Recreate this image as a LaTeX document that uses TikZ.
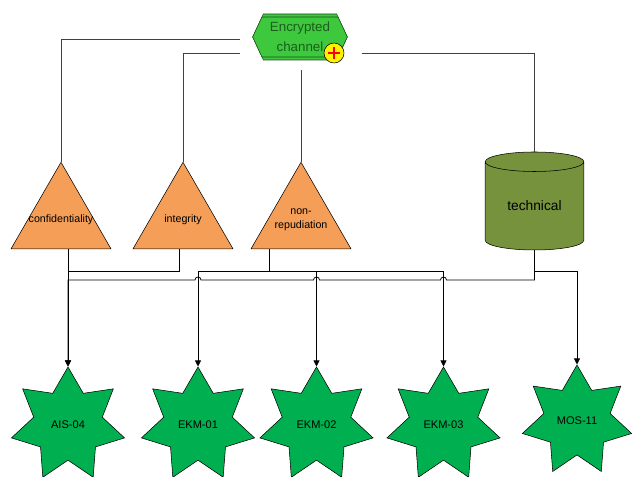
\documentclass[tikz,border=0pt]{standalone}
\usepackage{fontspec}
\setmainfont{Liberation Sans}
\usetikzlibrary{shapes.geometric,shapes.symbols,calc,arrows.meta}

\definecolor{chgreen}{RGB}{62,200,62}
\definecolor{chtext}{RGB}{28,92,28}
\definecolor{goalorange}{RGB}{244,158,88}
\definecolor{techolive}{RGB}{118,146,60}
\definecolor{ctrlgreen}{RGB}{0,176,80}

\tikzset{
  event/.style={signal, signal to=west and east, signal pointer angle=130,
    draw=black!60!chgreen, fill=chgreen, minimum width=71pt, inner sep=0pt,
    align=center, text=chtext, font=\fontsize{10}{15}\selectfont},
  goal/.style={regular polygon, regular polygon sides=3, draw, fill=goalorange,
    minimum size=86.6pt, inner sep=0pt},
  goaltext/.style={font=\fontsize{8}{10.5}\selectfont, align=center},
  store/.style={cylinder, shape border rotate=90, aspect=0.36, draw, fill=techolive,
    minimum width=74pt, minimum height=73.5pt, inner sep=0pt,
    font=\fontsize{10.3}{12}\selectfont},
  control/.style={star, star points=7, star point ratio=1.65, draw, fill=ctrlgreen,
    minimum size=87pt, inner sep=0pt, font=\fontsize{8.3}{10}\selectfont},
  feed/.style={draw=black!75, line width=0.5pt},
  link/.style={draw=black, line width=0.6pt},
  tolink/.style={link, -{Triangle[length=4.5pt,width=4.5pt]}}
}

\begin{document}
\begin{tikzpicture}[x=0.75pt, y=-0.75pt]
            \useasboundingbox (0,0) rectangle (632,477);

            % Define nodes
            \node[event, minimum height=34.5pt] (chanback) at (300,37) {};
            \node[event, minimum height=30pt]   (chan)     at (300,37) {Encrypted\\channel};
            \node[circle, draw, fill=yellow, minimum size=15pt, inner sep=0pt,
                  path picture={\draw[red, line width=0.9pt]
                    ([xshift=-4.5pt]path picture bounding box.center) -- ([xshift=4.5pt]path picture bounding box.center)
                    ([yshift=-4.5pt]path picture bounding box.center) -- ([yshift=4.5pt]path picture bounding box.center);}]
                  (plus) at (334,53) {};

            \node[goal] (conf)   at (61,220)  {};
            \node[goal] (integ)  at (183,220) {};
            \node[goal] (nonrep) at (301,220) {};
            \node[goaltext] (conftext)   at (conf)   {confidentiality};
            \node[goaltext] (integtext)  at (integ)  {integrity};
            \node[goaltext] (nonreptext) at (nonrep) {non-\\repudiation};

            \node[store] (tech) at (534.5,206) {technical};

            \node[control] (ais)  at (68,425)    {AIS-04};
            \node[control] (ekm1) at (198,425)   {EKM-01};
            \node[control] (ekm2) at (316.5,425) {EKM-02};
            \node[control] (ekm3) at (443.5,425) {EKM-03};
            \node[control, minimum size=84pt] (mos) at (577,421) {MOS-11};

            \coordinate (busA) at (0,271);
            \coordinate (busB) at (0,280);

            % Connect the nodes
            \draw[feed] ($(chan.west)+(-12,2)$) -| (conf.north);
            \draw[feed] ($(chan.west)+(-12,16)$) -| (integ.north);
            \draw[feed] ($(chanback.south)+(1,10)$) -- (nonrep.north);
            \draw[feed] ($(chan.east)+(14,16)$) -| (tech.north);

            \draw[tolink] (conf.south -| ais.north) -- (ais.north);
            \draw[link] ($(integ.south)+(-4,0)$) |- (busA -| ais.north);
            \draw[tolink] ($(nonrep.south)+(-32,0)$) |- (busA -| ekm1.north) -- (ekm1.north);
            \draw[tolink] ($(nonrep.south)+(-32,0)$) |- (busA -| ekm2.north) -- (ekm2.north);
            \draw[tolink] ($(nonrep.south)+(-32,0)$) |- (busA -| ekm3.north) -- (ekm3.north);
            \draw[tolink] (tech.south) |- (busA -| mos.north) -- (mos.north);
            \draw[tolink] (tech.south) -- (tech.south |- busB)
              -- ($(ekm3.north |- busB)+(3,0)$) arc[start angle=0, end angle=180, radius=2.25pt]
              -- ($(ekm2.north |- busB)+(3,0)$) arc[start angle=0, end angle=180, radius=2.25pt]
              -- ($(ekm1.north |- busB)+(3,0)$) arc[start angle=0, end angle=180, radius=2.25pt]
              -- (busB -| ais.north) -- (ais.north);
          \end{tikzpicture}
\end{document}
